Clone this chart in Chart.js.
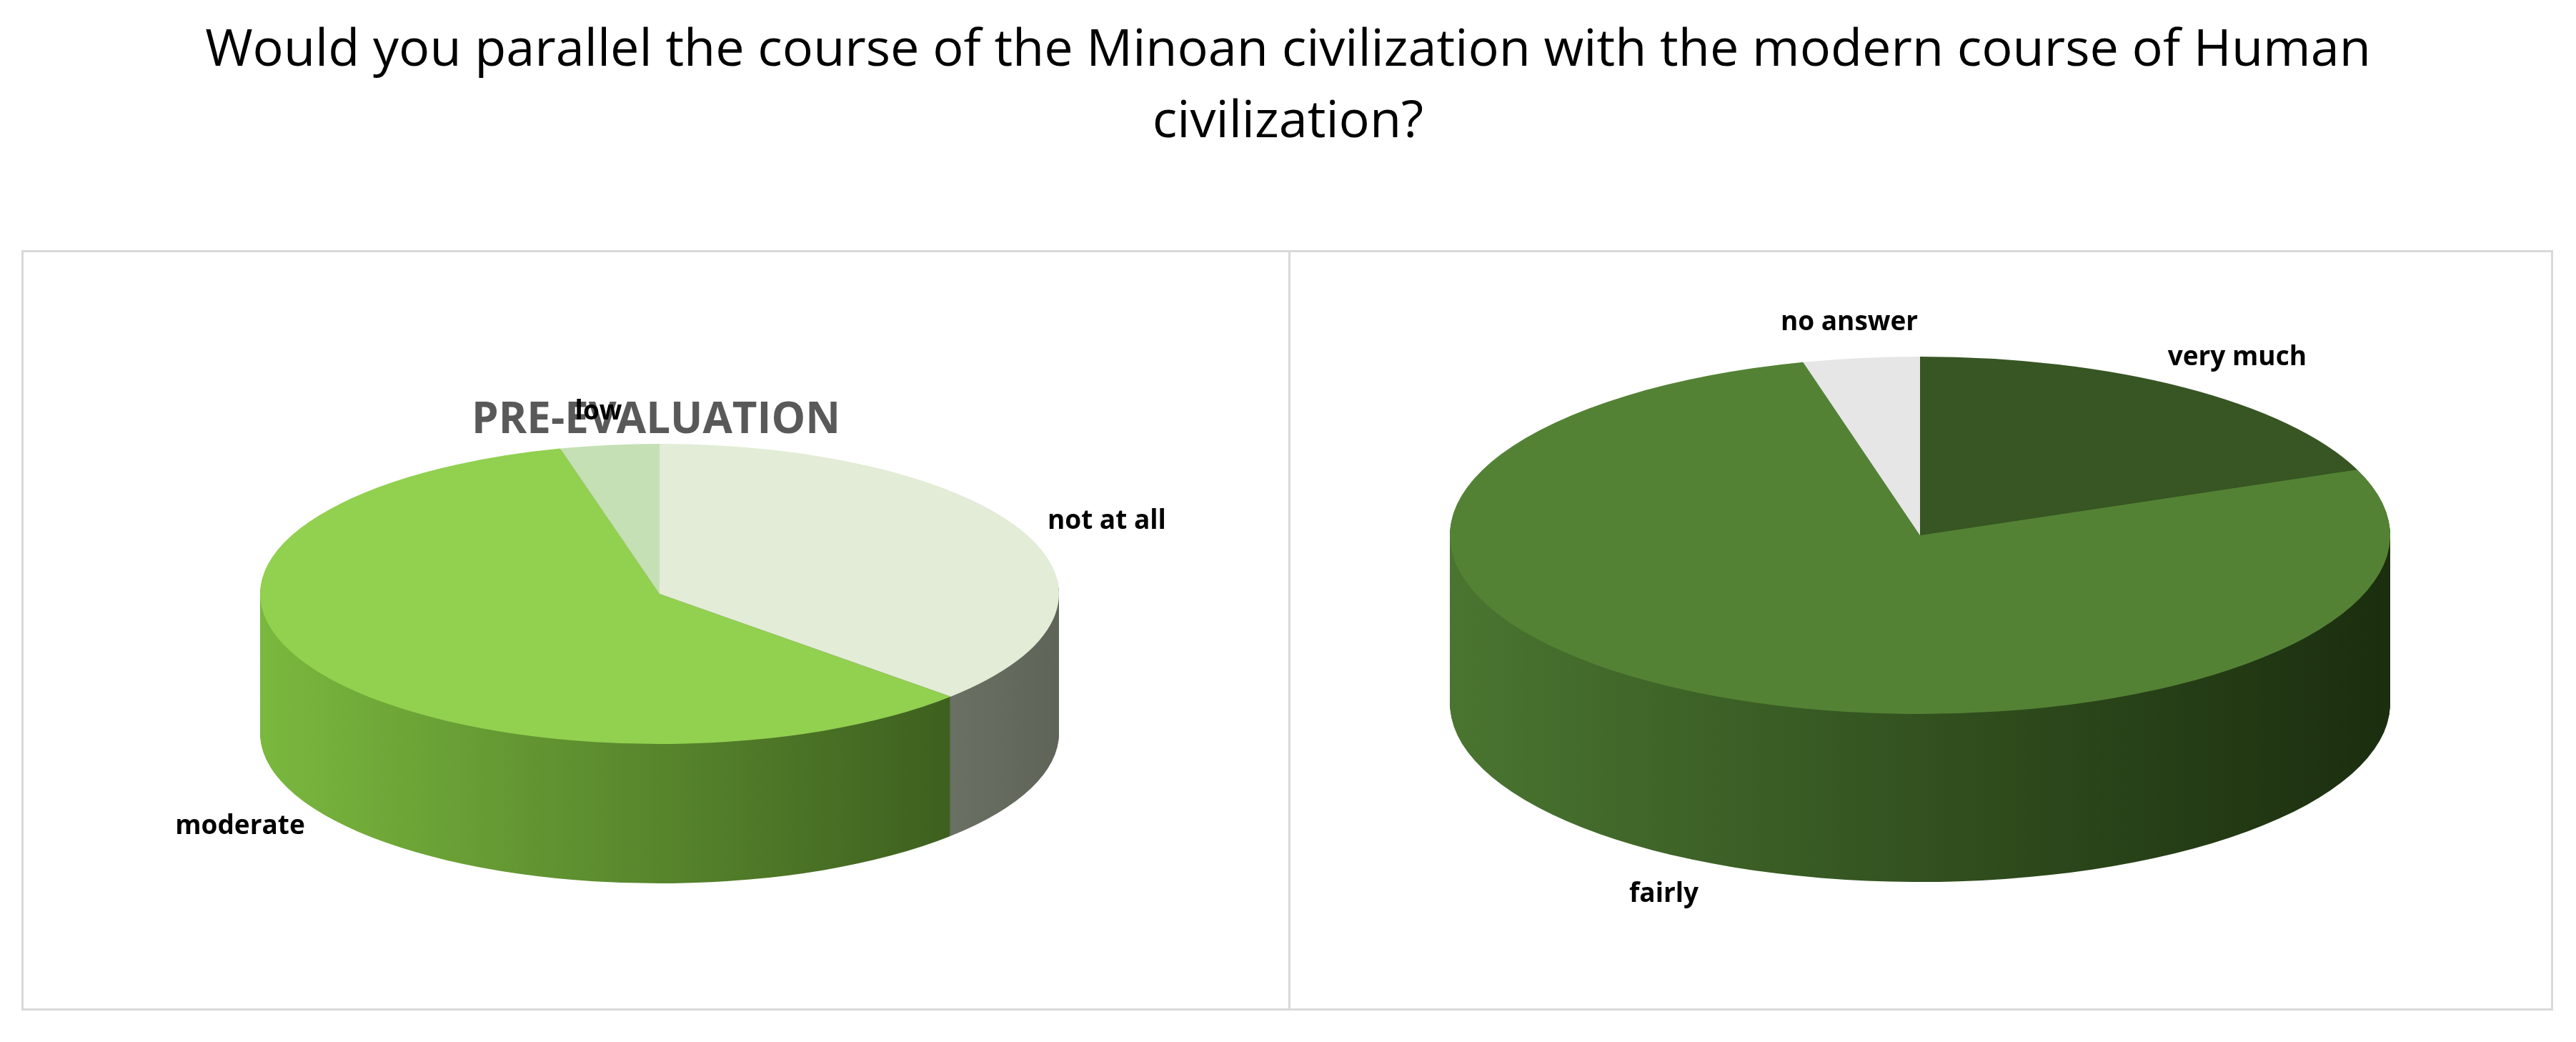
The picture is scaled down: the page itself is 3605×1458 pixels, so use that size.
<!DOCTYPE html>
<html><head><meta charset="utf-8">
<script src="https://cdn.jsdelivr.net/npm/chart.js@4"></script>
<style>
body{margin:0;width:3605px;height:1458px;background:#fff;position:relative;font-family:"Open Sans",sans-serif;overflow:hidden}
#title{position:absolute;left:0;top:14px;width:3605px;text-align:center;font-size:72px;line-height:100px;color:#000}
.panel{position:absolute;top:350px;height:1064px;border:3px solid #d9d9d9;box-sizing:border-box}
</style></head><body>
<div id="title">Would you parallel the course of the Minoan civilization with the modern course of Human<br>civilization?</div>
<div class="panel" style="left:30px;width:1776px"><canvas id="c1"></canvas></div>
<div class="panel" style="left:1803px;width:1770px"><canvas id="c2"></canvas></div>
<script>
const preLabels=["not at all","moderate","low"];
const preValues=[37,59,4];
const preColors=["#e2ecd6","#92d050","#c5e0b4"];
const preSides=[["#b8bcb2","#5e6458"],["#7ab83e","#34521a"],["#a8c496","#6d8560"]];
const postLabels=["very much","fairly","no answer"];
const postValues=[19,77,4];
const postColors=["#375623","#548235","#e7e6e6"];
const postSides=[["#2d461c","#1a2a10"],["#4a7530","#1b2e0f"],["#bdbdbd","#8a8a8a"]];

function makeChart(id,w,h,labels,values,colors,sides,geo,title){
  const cv=document.getElementById(id);cv.width=w;cv.height=h;cv.style.width=w+'px';cv.style.height=h+'px';
  const plug={id:'tilt'+id,
    beforeDatasetsDraw(chart){
      const ctx=chart.ctx,arcs=chart.getDatasetMeta(0).data;
      const a0=arcs[0],r=a0.outerRadius,px=a0.x,py=a0.y;
      const sx=geo.rx/r,sy=geo.ry/r;
      // sides
      for(let d=geo.depth;d>0;d-=1.5){
        ctx.save();ctx.translate(geo.cx,geo.cy+d);ctx.scale(sx,sy);ctx.translate(-px,-py);
        arcs.forEach((a,i)=>{
          const g=ctx.createLinearGradient(px-r,0,px+r,0);
          g.addColorStop(0,sides[i][0]);g.addColorStop(1,sides[i][1]);
          ctx.fillStyle=g;ctx.beginPath();ctx.moveTo(px,py);ctx.arc(px,py,r,a.startAngle,a.endAngle);ctx.closePath();ctx.fill();
        });
        ctx.restore();
      }
      ctx.save();ctx.translate(geo.cx,geo.cy);ctx.scale(sx,sy);ctx.translate(-px,-py);
    },
    afterDatasetsDraw(chart){
      const ctx=chart.ctx;ctx.restore();
      const arcs=chart.getDatasetMeta(0).data;
      ctx.save();ctx.font='bold 37px "Open Sans"';ctx.fillStyle='#000';ctx.textAlign='center';ctx.textBaseline='middle';
      arcs.forEach((a,i)=>{
        const m=(a.startAngle+a.endAngle)/2;
        const dx=Math.cos(m),dy=Math.sin(m);
        let x=geo.cx+dx*geo.rx*geo.lf,y=geo.cy+dy*geo.ry*geo.lf;
        if(dy>0)y+=geo.depth;
        ctx.fillText(labels[i],x,y);
      });
      ctx.restore();
    }};
  return new Chart(cv,{type:'pie',data:{labels:labels,datasets:[{data:values,backgroundColor:colors,borderWidth:0}]},
    options:{responsive:false,animation:false,events:[],layout:{padding:150},
      plugins:{legend:{display:false},tooltip:{enabled:false},
        title:{display:!!title,text:title,color:'#595959',font:{size:60,weight:'bold',family:'"Open Sans"'},padding:{top:50,bottom:0}}}},
    plugins:[plug]});
}
makeChart('c1',1770,1058,preLabels,preValues,preColors,preSides,{cx:890,cy:478,rx:559,ry:210,depth:195,lf:1.22},'PRE-EVALUATION');
makeChart('c2',1764,1058,postLabels,postValues,postColors,postSides,{cx:881,cy:396,rx:658,ry:250,depth:235,lf:1.2},'');
</script></body></html>
